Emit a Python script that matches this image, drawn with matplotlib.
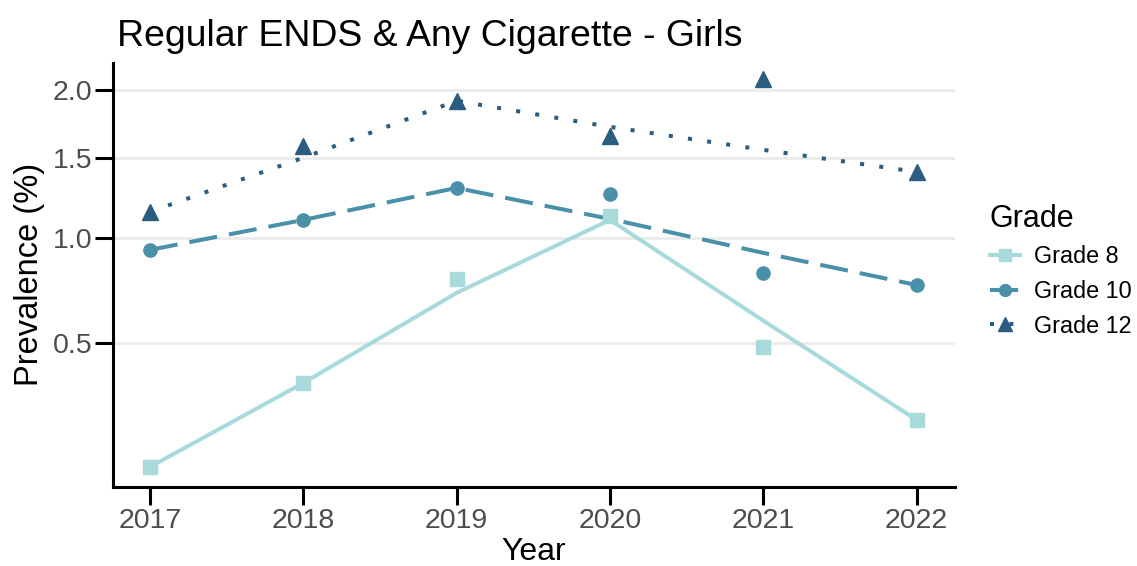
""" Regular ENDS & Any Cigarette - Girls, prevalence by grade"""
import numpy as np
import matplotlib
matplotlib.use("Agg")
import matplotlib.pyplot as plt

plt.rcParams['font.family'] = ['Liberation Sans', 'DejaVu Sans']

# Data
years = [2017, 2018, 2019, 2020, 2021, 2022]
grades = ["Grade 8", "Grade 10", "Grade 12"]

# observed prevalence (%)
obs_g8 = [0.13, 0.354, 0.785, 1.128, 0.484, 0.242]
obs_g10 = [0.935, 1.104, 1.300, 1.262, 0.815, 0.755]
obs_g12 = [1.152, 1.582, 1.914, 1.653, 2.088, 1.404]

# fitted trend (%)
fit_g8 = [0.13, 0.354, 0.717, 1.104, 0.592, 0.242]
fit_g10 = [0.935, 1.104, 1.300, 1.110, 0.919, 0.755]
fit_g12 = [1.152, 1.499, 1.914, 1.718, 1.554, 1.404]

y_ticks = [0.5, 1.0, 1.5, 2.0]

# Styles
colors = ["#A8DADC", "#4A90A8", "#2B5D80"]
markers = ["s", "o", "^"]
msizes = [9.5, 9.5, 11]
dashes = ["-", (0, (7, 3)), (0, (1, 3.8))]
LW = 2.9


def main():
    fig = plt.figure(figsize=(11.37, 5.66), dpi=100)
    ax = fig.add_axes([0.0994, 0.1396, 0.7405, 0.7494])

    ax.set_yscale('function', functions=(lambda v: np.sqrt(np.clip(v, 0, None)),
                                         lambda s: s ** 2))

    obs = [obs_g8, obs_g10, obs_g12]
    fit = [fit_g8, fit_g10, fit_g12]
    for i, g in enumerate(grades):
        ax.plot(years, fit[i], color=colors[i], linestyle=dashes[i], lw=LW,
                zorder=3)
        ax.plot(years, obs[i], color=colors[i], marker=markers[i], ms=msizes[i],
                linestyle='none', zorder=4)
        # legend proxy
        ax.plot([], [], color=colors[i], linestyle=dashes[i], lw=LW,
                marker=markers[i], ms=msizes[i] - 1, label=g)

    ax.set_xlim(2016.76, 2022.25)
    ax.set_ylim(0.0928, 2.219)
    ax.set_xticks(years)
    ax.set_yticks(y_ticks)
    ax.set_yticklabels([f"{t:.1f}" for t in y_ticks])

    ax.grid(axis='y', color='#EBEBEB', lw=2)
    ax.set_axisbelow(True)
    for s in ['top', 'right']:
        ax.spines[s].set_visible(False)
    for s in ['left', 'bottom']:
        ax.spines[s].set_linewidth(2.2)
        ax.spines[s].set_color('black')
    ax.tick_params(axis='both', length=13, width=2.2, color='black',
                   labelsize=20.5, labelcolor='#4D4D4D', pad=2)

    ax.set_xlabel("Year", fontsize=23, labelpad=2)
    ax.set_ylabel("Prevalence (%)", fontsize=23.5, labelpad=5)
    ax.set_title("Regular ENDS & Any Cigarette - Girls", fontsize=26.9,
                 loc='left', pad=12, x=0.005)

    leg = ax.legend(title="Grade", loc='center left',
                    bbox_to_anchor=(0.852, 0.522), bbox_transform=fig.transFigure,
                    frameon=False, fontsize=16.8, title_fontsize=22,
                    handlelength=1.3, handletextpad=0.6, labelspacing=0.5)
    leg._legend_box.align = "left"

    fig.savefig("out.png", dpi=100)


if __name__ == '__main__':
    main()
